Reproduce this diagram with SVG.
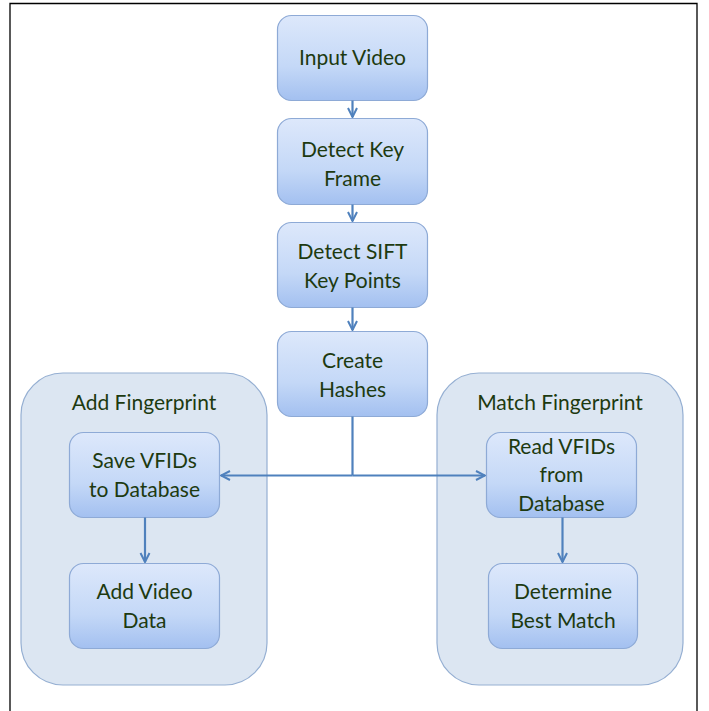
<svg xmlns="http://www.w3.org/2000/svg" width="709" height="711" viewBox="0 0 709 711">
<defs>
<linearGradient id="g" x1="0" y1="0" x2="0" y2="1">
<stop offset="0" stop-color="#dde8fb"/>
<stop offset="0.6" stop-color="#c4d8f7"/>
<stop offset="1" stop-color="#a3c0f0"/>
</linearGradient>
<style>
.box{fill:url(#g);stroke:#8eaad6;stroke-width:1.2}
.grp{fill:#dce6f2;stroke:#95afd2;stroke-width:1.2}
.t{font-family:Lato,"Open Sans",sans-serif;font-size:21px;fill:#1d3a10;text-anchor:middle}
.c{fill:none;stroke:#4f81bd;stroke-width:2.2}
</style>
<marker id="a" viewBox="0 0 12 12" refX="11" refY="6" markerWidth="12" markerHeight="12" orient="auto" markerUnits="userSpaceOnUse">
<path d="M2,1.5 L11,6 L2,10.5" fill="none" stroke="#4f81bd" stroke-width="2"/>
</marker>
</defs>
<rect x="0" y="0" width="709" height="711" fill="#ffffff"/>
<path d="M10,711 V3.5 H697 V711" fill="none" stroke="#000" stroke-width="1.3"/>

<g id="grp-add">
<rect class="grp" x="21" y="373" width="246" height="312" rx="42"/>
<text class="t" x="144" y="410">Add Fingerprint</text>
</g>
<g id="grp-match">
<rect class="grp" x="437" y="373" width="246" height="312" rx="42"/>
<text class="t" x="560" y="410">Match Fingerprint</text>
</g>

<g id="n-input"><rect class="box" x="277.5" y="15.5" width="150" height="85" rx="14"/><text class="t" x="352.5" y="65">Input Video</text></g>
<g id="n-keyframe"><rect class="box" x="277.5" y="118.5" width="150" height="86" rx="14"/><text class="t" x="352.5" y="157">Detect Key</text><text class="t" x="352.5" y="186">Frame</text></g>
<g id="n-sift"><rect class="box" x="277.5" y="222.5" width="150" height="85" rx="14"/><text class="t" x="352.5" y="259">Detect SIFT</text><text class="t" x="352.5" y="288">Key Points</text></g>
<g id="n-hashes"><rect class="box" x="277.5" y="331.5" width="150" height="85" rx="14"/><text class="t" x="352.5" y="368">Create</text><text class="t" x="352.5" y="397">Hashes</text></g>
<g id="n-save"><rect class="box" x="69.5" y="432.5" width="150" height="85" rx="14"/><text class="t" x="144.5" y="468">Save VFIDs</text><text class="t" x="144.5" y="497">to Database</text></g>
<g id="n-addvideo"><rect class="box" x="69.5" y="563.5" width="150" height="85" rx="14"/><text class="t" x="144.5" y="599">Add Video</text><text class="t" x="144.5" y="628">Data</text></g>
<g id="n-read"><rect class="box" x="486.5" y="432.5" width="150" height="85" rx="14"/><text class="t" x="561.5" y="454">Read VFIDs</text><text class="t" x="561.5" y="482">from</text><text class="t" x="561.5" y="511">Database</text></g>
<g id="n-best"><rect class="box" x="488.5" y="563.5" width="149" height="85" rx="14"/><text class="t" x="563" y="599">Determine</text><text class="t" x="563" y="628">Best Match</text></g>

<g id="connectors">
<path class="c" d="M352.5,100.5 V117" marker-end="url(#a)"/>
<path class="c" d="M352.5,204.5 V221" marker-end="url(#a)"/>
<path class="c" d="M352.5,307.5 V330" marker-end="url(#a)"/>
<path class="c" d="M352.5,416.5 V475.5"/>
<path class="c" d="M352.5,475.5 H221" marker-end="url(#a)"/>
<path class="c" d="M352.5,475.5 H485" marker-end="url(#a)"/>
<path class="c" d="M145,517.5 V562" marker-end="url(#a)"/>
<path class="c" d="M562.5,517.5 V562" marker-end="url(#a)"/>
</g>
</svg>
